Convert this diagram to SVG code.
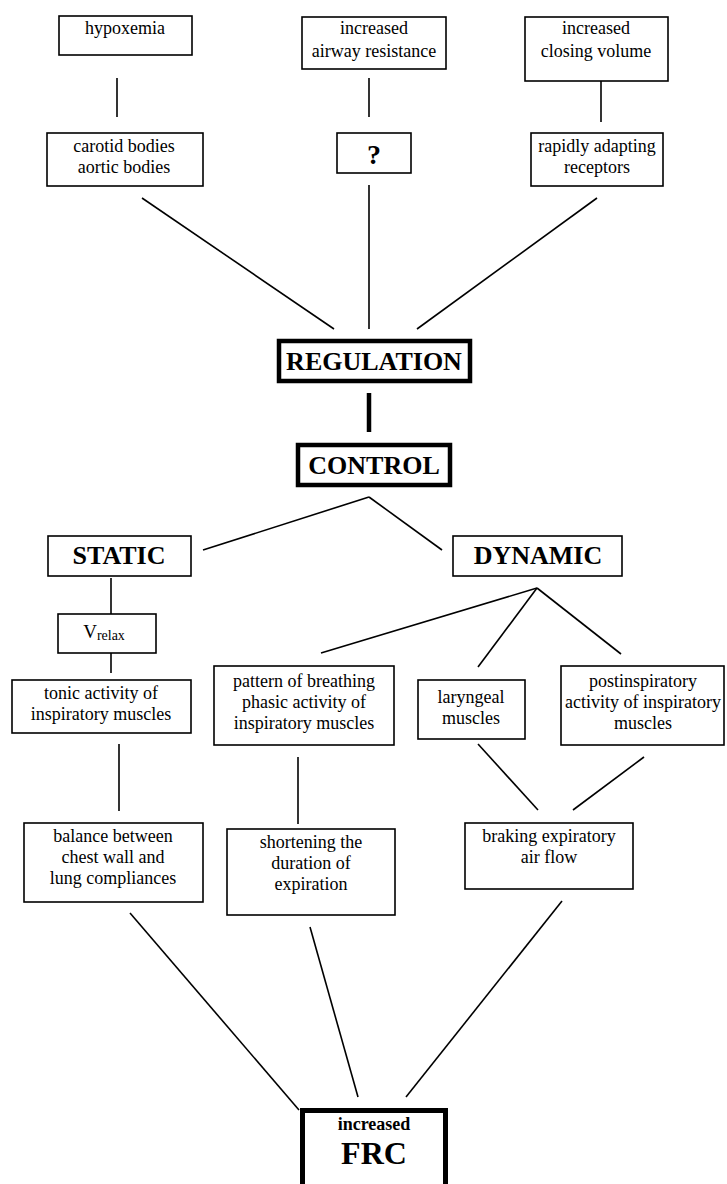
<svg xmlns="http://www.w3.org/2000/svg" width="727" height="1184" viewBox="0 0 727 1184">
<style>
.bx{fill:#fff;stroke:#000;stroke-width:1.6}
.tk{fill:#fff;stroke:#000;stroke-width:4.5}
.t{font-family:"Liberation Serif","Times New Roman",serif;font-size:18px;text-anchor:middle;fill:#000}
.h{font-family:"Liberation Serif","Times New Roman",serif;font-size:26px;font-weight:bold;text-anchor:middle;fill:#000}
.c line{stroke:#000;stroke-width:1.6}
</style>
<rect width="727" height="1184" fill="#fff"/>
<g class="c" id="connectors">
<line x1="117" y1="78" x2="117" y2="117"/>
<line x1="369" y1="78" x2="369" y2="117"/>
<line x1="601" y1="81" x2="601" y2="122"/>
<line x1="142" y1="198" x2="334" y2="329"/>
<line x1="369" y1="185" x2="369" y2="329"/>
<line x1="597" y1="198" x2="417" y2="329"/>
<line x1="369" y1="393" x2="369" y2="432" style="stroke-width:4.5"/>
<line x1="369" y1="497" x2="203" y2="550"/>
<line x1="369" y1="497" x2="442" y2="550"/>
<line x1="111" y1="578" x2="111" y2="614"/>
<line x1="111" y1="653" x2="111" y2="673"/>
<line x1="537" y1="588" x2="321" y2="653"/>
<line x1="537" y1="588" x2="478" y2="667"/>
<line x1="537" y1="588" x2="621" y2="654"/>
<line x1="119" y1="744" x2="119" y2="811"/>
<line x1="298" y1="757" x2="298" y2="824"/>
<line x1="478" y1="744" x2="538" y2="810"/>
<line x1="644" y1="757" x2="573" y2="810"/>
<line x1="130" y1="913" x2="299" y2="1110"/>
<line x1="310" y1="927" x2="358" y2="1097"/>
<line x1="562" y1="901" x2="406" y2="1097"/>
</g>
<g id="hypoxemia"><rect class="bx" x="59" y="16" width="133" height="39"/><text class="t" x="125" y="34">hypoxemia</text></g>
<g id="airway"><rect class="bx" x="302" y="17" width="144" height="52"/><text class="t" x="374" y="34">increased</text><text class="t" x="374" y="57">airway resistance</text></g>
<g id="closing"><rect class="bx" x="525" y="17" width="143" height="64"/><text class="t" x="596" y="34">increased</text><text class="t" x="596" y="57">closing volume</text></g>
<g id="carotid"><rect class="bx" x="47" y="133" width="156" height="53"/><text class="t" x="124" y="152">carotid bodies</text><text class="t" x="124" y="173">aortic bodies</text></g>
<g id="question"><rect class="bx" x="337" y="133" width="74" height="40"/><text class="h" x="374" y="164" style="font-size:28px">?</text></g>
<g id="rapidly"><rect class="bx" x="531" y="133" width="132" height="53"/><text class="t" x="597" y="152">rapidly adapting</text><text class="t" x="597" y="173">receptors</text></g>
<g id="regulation"><rect class="tk" x="279" y="341" width="191" height="40"/><text class="h" x="374" y="370">REGULATION</text></g>
<g id="control"><rect class="tk" x="298" y="445" width="152" height="40"/><text class="h" x="374" y="474">CONTROL</text></g>
<g id="static"><rect class="bx" x="48" y="536" width="143" height="40"/><text class="h" x="119" y="564">STATIC</text></g>
<g id="dynamic"><rect class="bx" x="453" y="536" width="169" height="40"/><text class="h" x="538" y="564">DYNAMIC</text></g>
<g id="vrelax"><rect class="bx" x="58" y="614" width="98" height="39"/><text class="t" x="104" y="638" style="font-size:19px">V<tspan style="font-size:14px" dy="2">relax</tspan></text></g>
<g id="tonic"><rect class="bx" x="12" y="680" width="179" height="53"/><text class="t" x="101" y="699">tonic activity of</text><text class="t" x="101" y="720">inspiratory muscles</text></g>
<g id="pattern"><rect class="bx" x="214" y="666" width="180" height="79"/><text class="t" x="304" y="687">pattern of breathing</text><text class="t" x="304" y="708">phasic activity of</text><text class="t" x="304" y="729">inspiratory muscles</text></g>
<g id="laryngeal"><rect class="bx" x="418" y="680" width="107" height="59"/><text class="t" x="471" y="703">laryngeal</text><text class="t" x="471" y="724">muscles</text></g>
<g id="postinsp"><rect class="bx" x="561" y="666" width="163" height="79"/><text class="t" x="643" y="687">postinspiratory</text><text class="t" x="643" y="708">activity of inspiratory</text><text class="t" x="643" y="729">muscles</text></g>
<g id="balance"><rect class="bx" x="24" y="823" width="179" height="79"/><text class="t" x="113" y="842">balance between</text><text class="t" x="113" y="863">chest wall and</text><text class="t" x="113" y="884">lung compliances</text></g>
<g id="shortening"><rect class="bx" x="227" y="829" width="168" height="86"/><text class="t" x="311" y="848">shortening the</text><text class="t" x="311" y="869">duration of</text><text class="t" x="311" y="890">expiration</text></g>
<g id="braking"><rect class="bx" x="465" y="823" width="168" height="66"/><text class="t" x="549" y="842">braking expiratory</text><text class="t" x="549" y="863">air flow</text></g>
<g id="frc"><rect x="302.5" y="1110.5" width="143" height="100" fill="#fff" stroke="#000" stroke-width="5"/><text class="h" x="374" y="1130" style="font-size:18px">increased</text><text class="h" x="374" y="1164" style="font-size:32px">FRC</text></g>
</svg>
